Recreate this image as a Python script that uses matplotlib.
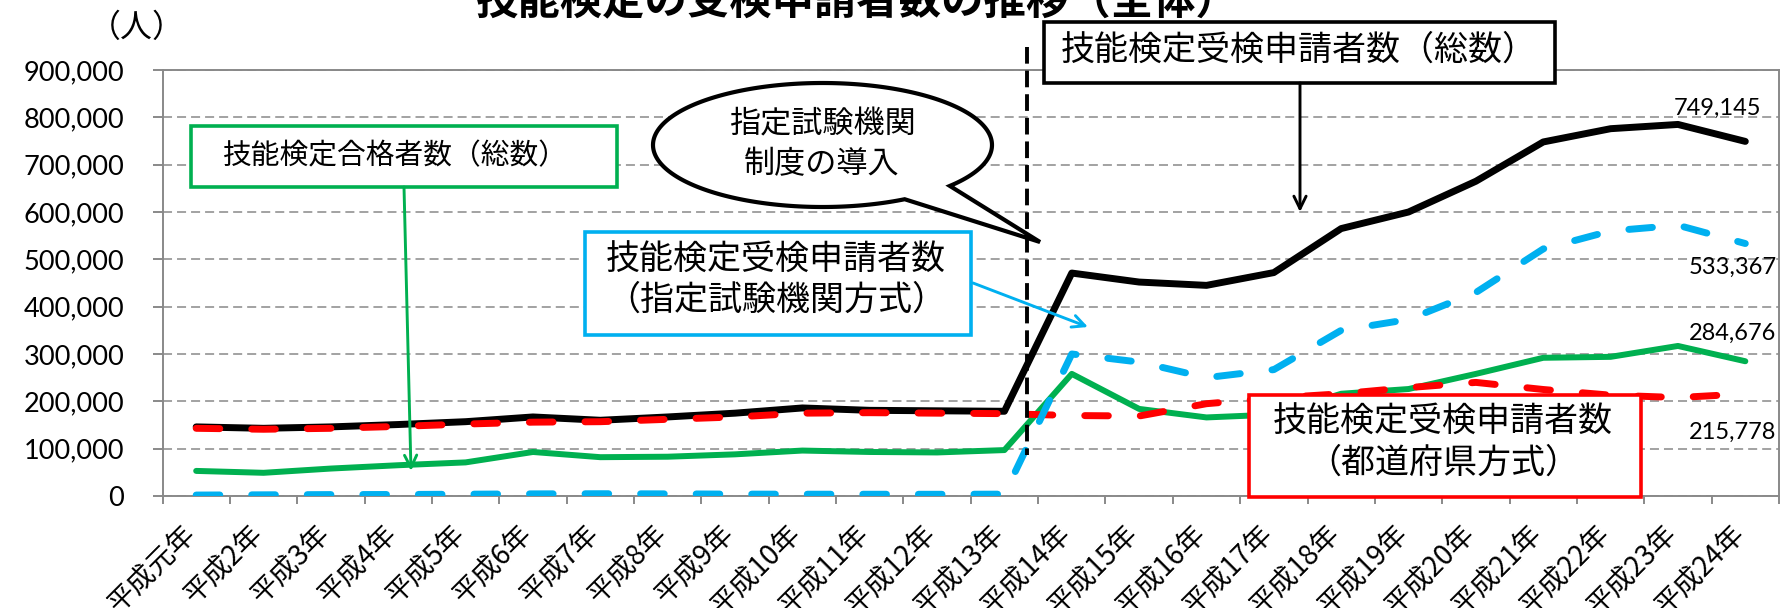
import numpy as np
import matplotlib
matplotlib.use('Agg')
import matplotlib.pyplot as plt
from matplotlib.patches import Polygon, Rectangle, FancyArrowPatch
from matplotlib.lines import Line2D
from matplotlib.transforms import ScaledTranslation

plt.rcParams['font.family'] = ['Noto Sans CJK JP', 'DejaVu Sans']
plt.rcParams['lines.scale_dashes'] = False

# --- data ---
years = ['平成元年'] + ['平成%d年' % n for n in range(2, 25)]
total = [146000, 143000, 146000, 151000, 157000, 167000, 160000, 167000,
         175000, 186000, 181000, 180000, 179000, 471000, 452000, 445000,
         472000, 565000, 600000, 665000, 748000, 776000, 785000, 749145]
pref = [143000, 141000, 143000, 147000, 152000, 156000, 157000, 162000,
        167000, 175000, 176000, 175000, 174000, 170000, 169000, 195000,
        207000, 216000, 229000, 240000, 225000, 213000, 208000, 215778]
designated = [2000, 2500, 3000, 3200, 3800, 4500, 4800, 4500, 4000, 3800,
              3700, 3600, 3900, 300000, 283000, 250000, 267000, 350000,
              373000, 430000, 522000, 560000, 572000, 533367]
passed = [53000, 49000, 58000, 65000, 71000, 93000, 82000, 83000, 88000,
          96000, 93000, 92000, 97000, 258000, 184000, 166000, 172000,
          216000, 226000, 258000, 292000, 294000, 317000, 284676]
yticks = list(range(0, 900001, 100000))

BLACK = 'black'
RED = '#FF0000'
BLUE = '#00B0F0'
GREEN = '#00B050'
GRAY = '#898989'

W, H = 1792, 608
fig = plt.figure(figsize=(W / 100, H / 100), dpi=100)


def P(x, y):
    # pixel position (from top-left) -> figure fraction
    return (x / W, 1 - y / H)


ax = fig.add_axes([162.5 / W, 1 - 496 / H, (1779 - 162.5) / W, 426 / H])
x = np.arange(len(years))

ax.plot(x, total, color=BLACK, lw=5, solid_joinstyle='round',
        solid_capstyle='round', zorder=2)
ax.plot(x, passed, color=GREEN, lw=4.3, solid_joinstyle='round',
        solid_capstyle='round', zorder=3)
ax.plot(x, pref, color=RED, lw=5, dashes=(17, 23), dash_capstyle='round',
        zorder=4)
ax.plot(x, designated, color=BLUE, lw=5, dashes=(17, 23),
        dash_capstyle='round', zorder=5)

ax.set_xlim(-0.5, len(years) - 0.5)
ax.set_ylim(0, 900000)
ax.set_yticks(yticks, labels=[f'{v:,}' for v in yticks])
for lbl in ax.get_yticklabels():
    lbl.set_fontfamily('Lato')
    lbl.set_fontsize(19.5)
ax.tick_params(axis='y', length=7.5, width=1.4, color=GRAY, pad=20)
ax.yaxis.grid(True, color=GRAY, lw=1.1, linestyle=(0, (6.5, 3.6)))
ax.set_axisbelow(True)

ax.set_xticks(np.arange(-0.5, len(years), 1))
ax.set_xticklabels([])
ax.set_xticks(x, minor=True)
ax.set_xticklabels(years, minor=True, rotation=45, ha='right', va='center',
                   rotation_mode='anchor', fontsize=20)
ax.tick_params(axis='x', which='major', length=6, width=1.4, color=GRAY)
ax.tick_params(axis='x', which='minor', length=0, pad=24.5)
shift = ScaledTranslation(-5 / 100, 0, fig.dpi_scale_trans)
for lbl in ax.get_xticklabels(minor=True):
    lbl.set_transform(lbl.get_transform() + shift)

for s in ax.spines.values():
    s.set_color(GRAY)
    s.set_linewidth(1.4)

# value labels of the last year
last = len(years) - 1
for series, off in [(total, (16, 33)), (designated, (31, -24)),
                    (passed, (31, 28)), (pref, (31, -38))]:
    ax.annotate(f'{series[-1]:,}', (last, series[-1]), xytext=off,
                textcoords='offset pixels', ha='right', va='center',
                fontfamily='Lato', fontsize=17)

# --- title and unit ---
fig.text(*P(857, 14), '技能検定の受検申請者数の推移（全体）', ha='center',
         va='baseline', fontsize=30.5, fontweight='bold')
fig.text(*P(137, 28), '（人）', ha='center', va='center', fontsize=23)

# dashed marker line for the introduction year
fig.add_artist(Line2D([1027 / W, 1027 / W], [1 - 47 / H, 1 - 455 / H],
                      color=BLACK, lw=2.8, dashes=(12, 5), zorder=6))

# speech bubble
cx, cy, a, b = 822.5, 145, 169.5, 62
t = np.radians(np.linspace(61, 401.3, 240))
pts = [P(cx + a * np.cos(v), cy + b * np.sin(v)) for v in t]
pts.append(P(1040, 242))
fig.add_artist(Polygon(pts, closed=True, facecolor='white', edgecolor=BLACK,
                       lw=3, joinstyle='miter', zorder=7))
fig.text(*P(822, 125), '指定試験機関', ha='center', va='center',
         fontsize=22.4, zorder=8)
fig.text(*P(822, 165), '制度の導入', ha='center', va='center',
         fontsize=22.4, zorder=8)


def box(x0, y0, x1, y1, color, lw=2.6):
    (fx0, fy1), (fx1, fy0) = P(x0, y0), P(x1, y1)
    fig.add_artist(Rectangle((fx0, fy0), fx1 - fx0, fy1 - fy0,
                             facecolor='white', edgecolor=color, lw=lw,
                             zorder=7))


def arrow(p0, p1, color):
    fig.add_artist(FancyArrowPatch(P(*p0), P(*p1), transform=fig.transFigure,
                                   arrowstyle='->,head_length=0.45,head_width=0.22',
                                   mutation_scale=20, color=color, lw=2.1,
                                   shrinkA=0, shrinkB=0, zorder=7))


# total
box(1044, 22, 1555, 83, BLACK)
fig.text(*P(1299, 50), '技能検定受検申請者数（総数）', ha='center',
         va='center', fontsize=24.5, zorder=8)
arrow((1300, 83), (1300, 212), BLACK)

# passed
box(191, 126, 617, 187, GREEN)
fig.text(*P(395, 156), '技能検定合格者数（総数）', ha='center', va='center',
         fontsize=20.7, zorder=8)
arrow((404, 187), (411, 471), GREEN)

# designated bodies
box(585, 232, 971, 335, BLUE)
fig.text(*P(776, 260), '技能検定受検申請者数', ha='center', va='center',
         fontsize=24.5, zorder=8)
fig.text(*P(776, 300), '（指定試験機関方式）', ha='center', va='center',
         fontsize=24.5, zorder=8)
arrow((973, 283), (1088, 327), BLUE)

# prefectures
box(1249, 395, 1641, 497, RED)
fig.text(*P(1443, 422), '技能検定受検申請者数', ha='center', va='center',
         fontsize=24.5, zorder=8)
fig.text(*P(1443, 463), '（都道府県方式）', ha='center', va='center',
         fontsize=24.5, zorder=8)

fig.savefig('out.png', dpi=100)
